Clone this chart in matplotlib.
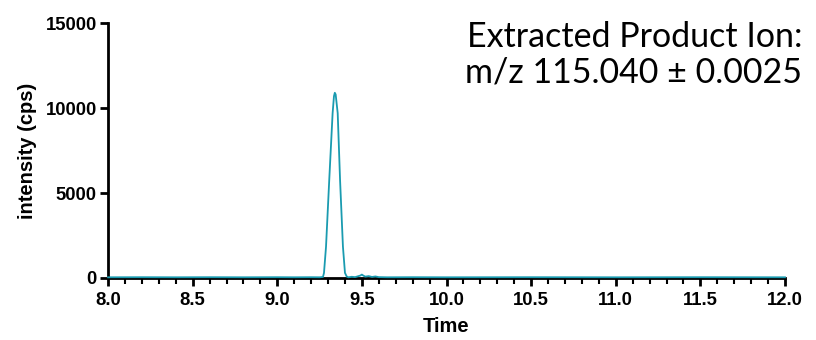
import matplotlib
matplotlib.use("Agg")
import matplotlib.pyplot as plt
from matplotlib.ticker import MultipleLocator

# Extracted ion chromatogram (time in min, intensity in cps)
time = [8.00, 8.20, 8.40, 8.60, 8.80, 9.00, 9.10, 9.20, 9.25, 9.27,
        9.276, 9.288, 9.307, 9.327, 9.335, 9.340, 9.345, 9.357, 9.371,
        9.388, 9.400, 9.410, 9.420, 9.440, 9.460, 9.480, 9.490, 9.500,
        9.510, 9.520, 9.540, 9.560, 9.580, 9.600, 9.650, 9.800, 10.00,
        10.50, 11.00, 11.50, 12.00]
intensity = [40, 45, 40, 45, 40, 45, 40, 45, 40, 60,
             300, 1840, 5760, 9700, 10700, 10900, 10800, 9700, 5760,
             1840, 300, 90, 40, 70, 50, 110, 140, 200,
             130, 80, 110, 60, 90, 50, 40, 45, 40,
             45, 40, 45, 40]

x_ticks = [8.0, 8.5, 9.0, 9.5, 10.0, 10.5, 11.0, 11.5, 12.0]
y_ticks = [0, 5000, 10000, 15000]

fig = plt.figure(figsize=(8.16, 3.4), dpi=100)
ax = fig.add_axes([0.1324, 0.1824, 0.962 - 0.1324, 0.932 - 0.1824])

ax.plot(time, intensity, color="#1a9bb0", linewidth=1.3, clip_on=False, zorder=3)

ax.set_xlim(8.0, 12.0)
ax.set_ylim(0, 15000)
ax.set_xticks(x_ticks)
ax.set_xticklabels([f"{v:.1f}" for v in x_ticks])
ax.set_yticks(y_ticks)
ax.set_yticklabels([str(v) for v in y_ticks])
ax.xaxis.set_minor_locator(MultipleLocator(0.1))

for side in ("top", "right"):
    ax.spines[side].set_visible(False)
for side in ("left", "bottom"):
    ax.spines[side].set_linewidth(2)
    ax.spines[side].set_color("black")

ax.tick_params(which="major", direction="out", length=6, width=2, colors="black")
ax.tick_params(which="minor", direction="out", length=4, width=1.5, colors="black")
ax.tick_params(axis="y", which="major", pad=2)
ax.tick_params(axis="x", which="major", pad=4)

for lbl in ax.get_xticklabels() + ax.get_yticklabels():
    lbl.set_fontfamily("Liberation Sans")
    lbl.set_fontweight("bold")
    lbl.set_fontsize(13.3)

label_font = dict(family="Liberation Sans", weight="bold", size=14.5)
ax.set_xlabel("Time", fontdict=label_font, labelpad=6)
ax.set_ylabel("intensity (cps)", fontdict=label_font, labelpad=6)

# Ion annotation, two lines anchored on their baselines
fig.text(0.983, 1 - 47 / 340, "Extracted Product Ion:",
         ha="right", va="baseline", fontsize=24.5, family="Lato")
fig.text(0.983, 1 - 83 / 340, "m/z 115.040 \u00b1 0.0025",
         ha="right", va="baseline", fontsize=24.5, family="Lato")

fig.savefig("out.png", dpi=100)
